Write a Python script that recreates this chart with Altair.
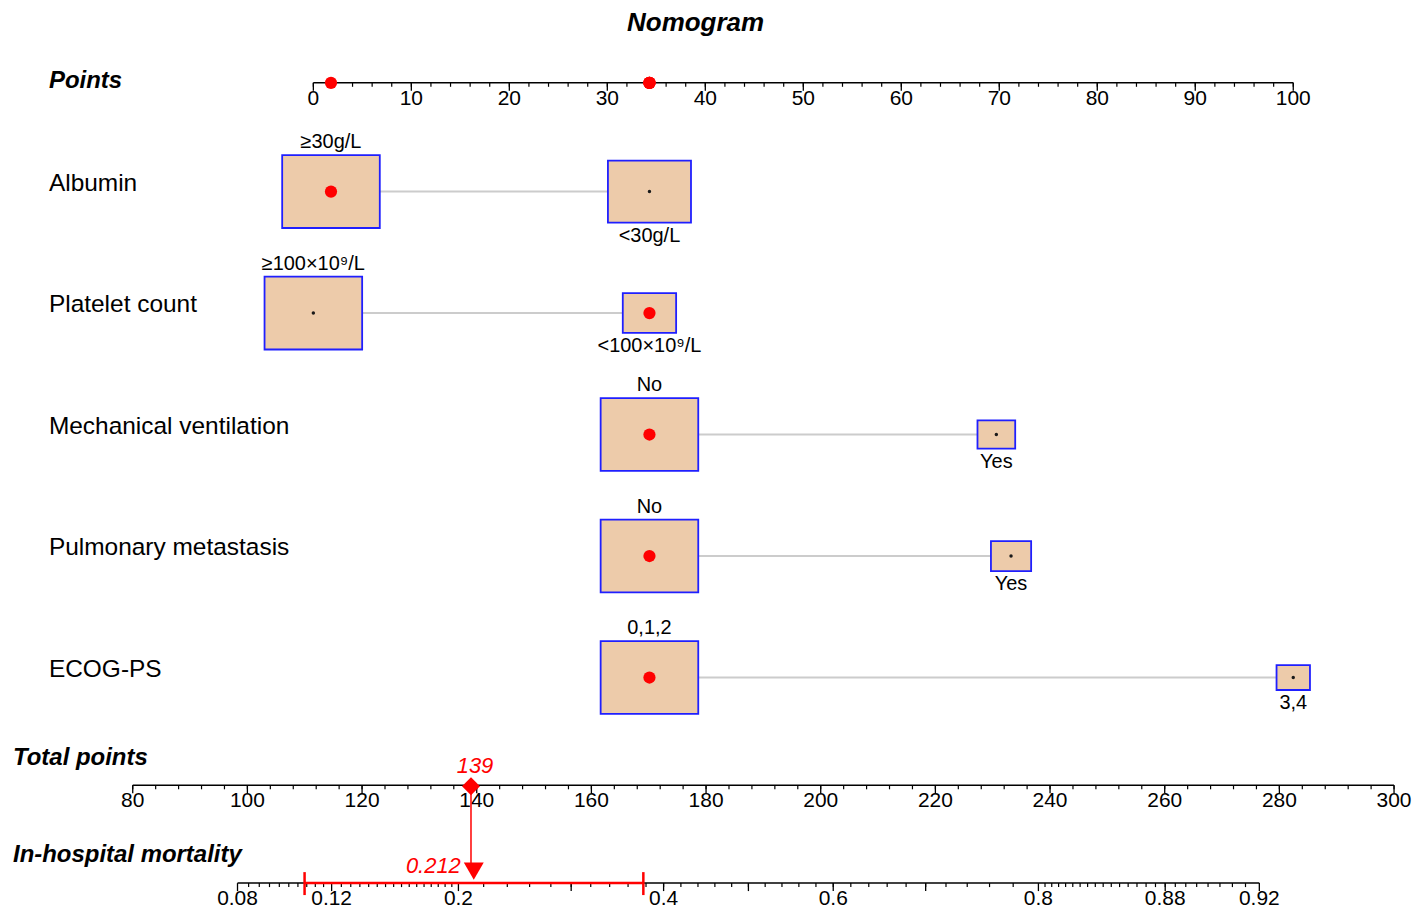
import math
import altair as alt
import pandas as pd

# ---------------- data ----------------
variables = ["Albumin", "Platelet count", "Mechanical ventilation",
             "Pulmonary metastasis", "ECOG-PS"]
level_names = [["≥30g/L", "<30g/L"],
               ["≥100×10⁹/L", "<100×10⁹/L"],
               ["No", "Yes"],
               ["No", "Yes"],
               ["0,1,2", "3,4"]]
level_points = [[1.8, 34.3], [0.0, 34.3], [34.3, 69.7], [34.3, 71.2], [34.3, 100.0]]
level_freq = [[58, 42], [77, 23], [87, 13], [85.5, 14.5], [89.5, 10.5]]
level_selected = [[True, False], [False, True], [True, False], [True, False], [True, False]]

points_major = [0, 10, 20, 30, 40, 50, 60, 70, 80, 90, 100]
points_minor = list(range(0, 101, 2))
total_major = [80, 100, 120, 140, 160, 180, 200, 220, 240, 260, 280, 300]
total_minor = list(range(80, 301, 4))
mort_labelled = [0.08, 0.12, 0.2, 0.4, 0.6, 0.8, 0.88, 0.92]
mort_long = [0.3, 0.5, 0.7]
mort_minor = ([round(0.08 + 0.004 * i, 3) for i in range(1, 10)]
              + [round(0.12 + 0.005 * i, 3) for i in range(1, 16)]
              + [round(0.2 + 0.02 * i, 3) for i in range(1, 30)]
              + [round(0.8 + 0.005 * i, 3) for i in range(1, 24)])

total_score = 139
pred_prob = 0.212
pred_ci = [0.107, 0.377]

# ---------------- helpers ----------------
FONT = "Liberation Sans"
RED = "#FF0000"


def logit(p):
    return math.log(p / (1 - p))


XP = alt.Scale(domain=[0, 100], range=[306, 1288])
XT = alt.Scale(domain=[80, 300], range=[125, 1389])
XM = alt.Scale(domain=[logit(0.08), logit(0.92)], range=[230, 1254])
YR = alt.Scale(type="point", domain=variables, range=[183, 670], padding=0)

rows = []
for vi, v in enumerate(variables):
    for li in range(2):
        rows.append(dict(variable=v, level=level_names[vi][li],
                         points=level_points[vi][li], freq=level_freq[vi][li],
                         state="selected" if level_selected[vi][li] else "other",
                         side=-1 if li == 0 else 1))
levels = pd.DataFrame(rows)


def text_layer(text, x, y, size, weight="normal", style="normal", align="left",
               baseline="middle", color="black"):
    return alt.Chart(pd.DataFrame({"t": [text]})).mark_text(
        align=align, baseline=baseline, fontSize=size, fontWeight=weight,
        fontStyle=style, font=FONT, color=color
    ).encode(x=alt.value(x), y=alt.value(y), text="t:N")


def axis_layers(major, minor, labelled, scale, y_line, expr="datum.v"):
    out = []
    base_major = alt.Chart(pd.DataFrame({"v": major})).transform_calculate(x=expr)
    out.append(base_major.mark_rule(color="black", strokeWidth=1.5).encode(
        x=alt.X("min(x):Q", scale=scale, axis=None), x2="max(x):Q",
        y=alt.value(y_line)))
    out.append(alt.Chart(pd.DataFrame({"v": minor})).transform_calculate(x=expr)
               .mark_rule(color="black", strokeWidth=1.2).encode(
        x=alt.X("x:Q", scale=scale, axis=None),
        y=alt.value(y_line), y2=alt.value(y_line + 4)))
    out.append(base_major.mark_rule(color="black", strokeWidth=1.3).encode(
        x=alt.X("x:Q", scale=scale, axis=None),
        y=alt.value(y_line), y2=alt.value(y_line + 8)))
    out.append(alt.Chart(pd.DataFrame({"v": labelled, "lab": [str(v) for v in labelled]}))
               .transform_calculate(x=expr)
               .mark_text(fontSize=21, font=FONT, baseline="alphabetic", align="center",
                          color="black").encode(
        x=alt.X("x:Q", scale=scale, axis=None),
        y=alt.value(y_line + 22), text="lab:N"))
    return out


LOGIT = "log(datum.v/(1-datum.v))"
BOX = "M-1.34,-1L1.34,-1L1.34,1L-1.34,1Z"

layers = []

# title and row labels
layers.append(text_layer("Nomogram", 689, 14, 26, weight="bold", style="italic", align="center"))
layers.append(text_layer("Points", 41, 72, 24, weight="bold", style="italic"))
layers.append(text_layer("Total points", 5, 751, 24, weight="bold", style="italic"))
layers.append(text_layer("In-hospital mortality", 5, 848, 24, weight="bold", style="italic"))

layers.append(alt.Chart(pd.DataFrame({"variable": variables})).mark_text(
    align="left", baseline="middle", fontSize=24.5, font=FONT, dy=-8, color="black"
).encode(x=alt.value(41), y=alt.Y("variable:N", scale=YR, axis=None), text="variable:N"))

# Points axis
layers += axis_layers(points_major, points_minor, points_major, XP, 74)
layers.append(alt.Chart(levels).transform_filter("datum.state == 'selected'")
              .mark_circle(color=RED, size=150, opacity=1).encode(
    x=alt.X("points:Q", scale=XP, axis=None), y=alt.value(74)))

# connecting lines
layers.append(alt.Chart(levels).mark_rule(color="#CCCCCC", strokeWidth=2).encode(
    x=alt.X("min(points):Q", scale=XP, axis=None), x2="max(points):Q",
    y=alt.Y("variable:N", scale=YR, axis=None)))

boxbase = alt.Chart(levels).transform_joinaggregate(
    fmax="max(freq)", groupby=["variable"]
).transform_calculate(rel="datum.freq / datum.fmax")

layers.append(boxbase.mark_point(
    shape=BOX, filled=True, fill="#EDCBAA", stroke="#1F1FFF", strokeWidth=1.8,
    opacity=1, fillOpacity=1, strokeOpacity=1
).encode(
    x=alt.X("points:Q", scale=XP, axis=None),
    y=alt.Y("variable:N", scale=YR, axis=None),
    size=alt.Size("rel:Q", scale=alt.Scale(domain=[0, 1], range=[0, 5329]), legend=None)))

layers.append(boxbase.transform_calculate(
    off="datum.side * (36.5 * sqrt(datum.rel) + 13)"
).mark_text(fontSize=20, font=FONT, align="center", baseline="middle", color="black").encode(
    x=alt.X("points:Q", scale=XP, axis=None),
    y=alt.Y("variable:N", scale=YR, axis=None),
    yOffset=alt.YOffset("off:Q", scale=None),
    text="level:N"))

layers.append(alt.Chart(levels).mark_circle(opacity=1).encode(
    x=alt.X("points:Q", scale=XP, axis=None),
    y=alt.Y("variable:N", scale=YR, axis=None),
    color=alt.Color("state:N", scale=alt.Scale(domain=["selected", "other"],
                                                range=[RED, "#1A1A1A"]), legend=None),
    size=alt.Size("state:O", scale=alt.Scale(domain=["selected", "other"],
                                              range=[150, 12]), legend=None)))

# Total points axis
layers += axis_layers(total_major, total_minor, total_major, XT, 778)

# Mortality axis
layers += axis_layers(mort_labelled + mort_long, mort_minor, mort_labelled, XM, 876, LOGIT)

pred = pd.DataFrame({"total": [total_score], "v": [pred_prob],
                     "lo": [pred_ci[0]], "hi": [pred_ci[1]]})

layers.append(alt.Chart(pred).mark_rule(color=RED, strokeWidth=1.5).encode(
    x=alt.X("total:Q", scale=XT, axis=None), y=alt.value(779), y2=alt.value(860)))
layers.append(alt.Chart(pred).mark_point(shape="diamond", filled=True, color=RED,
                                         size=324, opacity=1).encode(
    x=alt.X("total:Q", scale=XT, axis=None), y=alt.value(779)))
layers.append(alt.Chart(pred).mark_text(fontSize=22, font=FONT, fontStyle="italic",
                                        color=RED, baseline="alphabetic", dx=4).encode(
    x=alt.X("total:Q", scale=XT, axis=None), y=alt.value(766), text="total:Q"))

layers.append(alt.Chart(pred).transform_calculate(
    lox="log(datum.lo/(1-datum.lo))", hix="log(datum.hi/(1-datum.hi))"
).mark_rule(color=RED, strokeWidth=2.5).encode(
    x=alt.X("lox:Q", scale=XM, axis=None), x2="hix:Q", y=alt.value(876)))
layers.append(alt.Chart(pred).transform_fold(["lo", "hi"], as_=["k", "cv"]).transform_calculate(
    cx="log(datum.cv/(1-datum.cv))"
).mark_rule(color=RED, strokeWidth=2.5).encode(
    x=alt.X("cx:Q", scale=XM, axis=None), y=alt.value(865), y2=alt.value(888)))
layers.append(alt.Chart(pred).transform_calculate(px=LOGIT).mark_point(
    shape="triangle-down", filled=True, color=RED, size=400, opacity=1).encode(
    x=alt.X("px:Q", scale=XM, axis=None), y=alt.value(864)))
layers.append(alt.Chart(pred).transform_calculate(px=LOGIT).mark_text(
    fontSize=22, font=FONT, fontStyle="italic", color=RED, baseline="alphabetic",
    align="right", dx=-13).encode(
    x=alt.X("px:Q", scale=XM, axis=None), y=alt.value(866),
    text=alt.Text("v:Q", format=".3f")))

chart = alt.layer(*layers).resolve_scale(
    x="independent", y="independent", size="independent", color="independent"
).properties(
    width=1408, height=903, autosize=alt.AutoSizeParams(type="none"), padding=0
).configure_view(stroke=None)

chart.save("out.html", embed_options={"renderer": "svg", "actions": False})
